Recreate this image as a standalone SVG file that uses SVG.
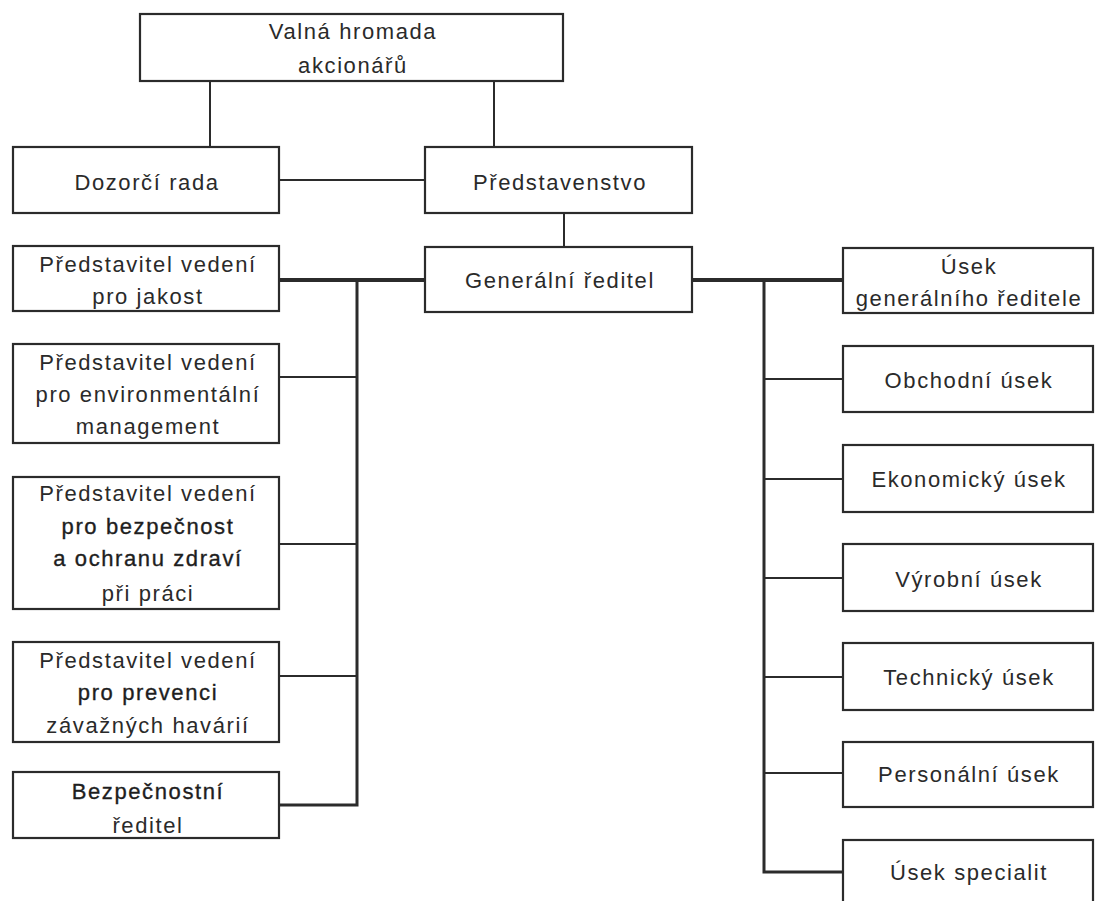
<svg xmlns="http://www.w3.org/2000/svg" width="1096" height="901" viewBox="0 0 1096 901">
<style>
.box{fill:#fff;stroke:#2b2b2b;stroke-width:2.2}
.t{font-family:"Liberation Sans",Arial,sans-serif;font-size:22px;fill:#2a2a2a;text-anchor:middle;letter-spacing:1.6px}
.b{fill:#1e1e1e;stroke:#1e1e1e;stroke-width:0.35}
.c{stroke:#2b2b2b;stroke-width:2;fill:none}
.ck{stroke:#2b2b2b;stroke-width:4;fill:none}
.cm{stroke:#2b2b2b;stroke-width:3;fill:none}
</style>
<rect width="1096" height="901" fill="#fff"/>
<g id="connectors">
<line class="c" x1="210" y1="81" x2="210" y2="147"/>
<line class="c" x1="494" y1="81" x2="494" y2="147"/>
<line class="c" x1="279" y1="180" x2="425" y2="180"/>
<line class="c" x1="564" y1="213" x2="564" y2="247"/>
<line class="ck" x1="279" y1="280" x2="425" y2="280"/>
<line class="ck" x1="692" y1="280" x2="843" y2="280"/>
<polyline class="cm" points="357,280 357,805 279,805"/>
<line class="c" x1="279" y1="377" x2="357" y2="377"/>
<line class="c" x1="279" y1="544" x2="357" y2="544"/>
<line class="c" x1="279" y1="676" x2="357" y2="676"/>
<polyline class="cm" points="764,280 764,872 843,872"/>
<line class="c" x1="764" y1="379" x2="843" y2="379"/>
<line class="c" x1="764" y1="479" x2="843" y2="479"/>
<line class="c" x1="764" y1="578" x2="843" y2="578"/>
<line class="c" x1="764" y1="677" x2="843" y2="677"/>
<line class="c" x1="764" y1="773" x2="843" y2="773"/>
</g>
<g id="valna-hromada">
<rect class="box" x="140" y="14" width="423" height="67"/>
<text class="t" x="353" y="39">Valná hromada</text>
<text class="t" x="353" y="73">akcionářů</text>
</g>
<g id="dozorci-rada">
<rect class="box" x="13" y="147" width="266" height="66"/>
<text class="t" x="147" y="190">Dozorčí rada</text>
</g>
<g id="predstavenstvo">
<rect class="box" x="425" y="147" width="267" height="66"/>
<text class="t" x="560" y="190">Představenstvo</text>
</g>
<g id="generalni-reditel">
<rect class="box" x="425" y="247" width="267" height="65"/>
<text class="t" x="560" y="288">Generální ředitel</text>
</g>
<g id="pv-jakost">
<rect class="box" x="13" y="246" width="266" height="65"/>
<text class="t" x="148" y="272">Představitel vedení</text>
<text class="t" x="148" y="304">pro jakost</text>
</g>
<g id="pv-environment">
<rect class="box" x="13" y="344" width="266" height="99"/>
<text class="t" x="148" y="370">Představitel vedení</text>
<text class="t" x="148" y="402">pro environmentální</text>
<text class="t" x="148" y="434">management</text>
</g>
<g id="pv-bozp">
<rect class="box" x="13" y="477" width="266" height="132"/>
<text class="t" x="148" y="501">Představitel vedení</text>
<text class="t b" x="148" y="534">pro bezpečnost</text>
<text class="t b" x="148" y="566">a ochranu zdraví</text>
<text class="t" x="148" y="601">při práci</text>
</g>
<g id="pv-prevence">
<rect class="box" x="13" y="642" width="266" height="100"/>
<text class="t" x="148" y="668">Představitel vedení</text>
<text class="t b" x="148" y="700">pro prevenci</text>
<text class="t" x="148" y="733">závažných havárií</text>
</g>
<g id="bezpecnostni-reditel">
<rect class="box" x="13" y="772" width="266" height="66"/>
<text class="t b" x="148" y="799">Bezpečnostní</text>
<text class="t" x="148" y="833">ředitel</text>
</g>
<g id="usek-gr">
<rect class="box" x="843" y="248" width="250" height="65"/>
<text class="t" x="969" y="274">Úsek</text>
<text class="t" x="969" y="306">generálního ředitele</text>
</g>
<g id="obchodni">
<rect class="box" x="843" y="346" width="250" height="66"/>
<text class="t" x="969" y="388">Obchodní úsek</text>
</g>
<g id="ekonomicky">
<rect class="box" x="843" y="445" width="250" height="67"/>
<text class="t" x="969" y="487">Ekonomický úsek</text>
</g>
<g id="vyrobni">
<rect class="box" x="843" y="544" width="250" height="67"/>
<text class="t" x="969" y="587">Výrobní úsek</text>
</g>
<g id="technicky">
<rect class="box" x="843" y="643" width="250" height="67"/>
<text class="t" x="969" y="685">Technický úsek</text>
</g>
<g id="personalni">
<rect class="box" x="843" y="742" width="250" height="65"/>
<text class="t" x="969" y="782">Personální úsek</text>
</g>
<g id="usek-specialit">
<rect class="box" x="843" y="840" width="250" height="70"/>
<text class="t" x="969" y="880">Úsek specialit</text>
</g>
</svg>
